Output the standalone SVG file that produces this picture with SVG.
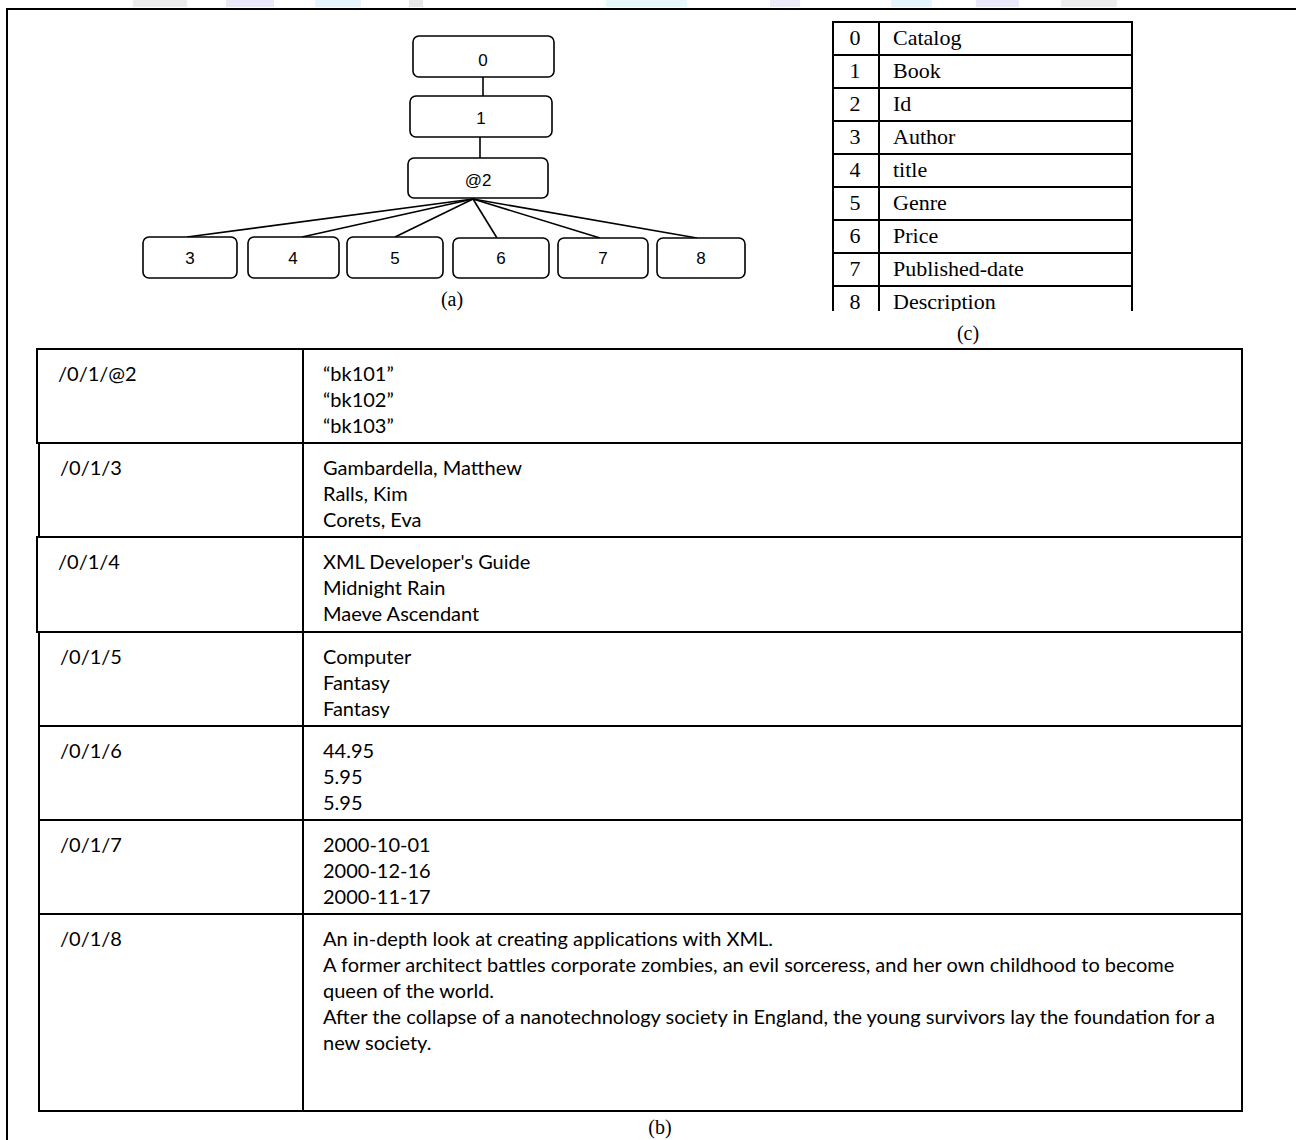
<svg xmlns="http://www.w3.org/2000/svg" width="1296" height="1140" viewBox="0 0 1296 1140">
<style>
.node rect{fill:#fff;stroke:#000;stroke-width:1.6}
.node text{font-family:"Liberation Sans",Arial,sans-serif;font-size:17px;text-anchor:middle;fill:#000}
.conn line{stroke:#000;stroke-width:1.6}
.grid line{stroke:#000;stroke-width:2}
.tm{font-family:"Liberation Serif","Times New Roman",serif;font-size:22px;fill:#000}
.cap{font-family:"Liberation Serif","Times New Roman",serif;font-size:20px;fill:#000;text-anchor:middle}
.cb{font-family:Lato,"Open Sans",sans-serif;font-size:20px;fill:#000}
.wm{opacity:0.5}
</style>
<defs>
<clipPath id="clipC"><rect x="820" y="0" width="330" height="311"/></clipPath>
<clipPath id="clipR2"><rect x="300" y="443" width="940" height="86"/></clipPath>
<clipPath id="clipR4"><rect x="300" y="632" width="940" height="86"/></clipPath>
</defs>
<rect width="1296" height="1140" fill="#fff"/>
<g id="watermark" class="wm">
<rect x="133" y="0" width="54" height="7" fill="#dcdcdc"/>
<rect x="226" y="0" width="48" height="7" fill="#d8d4f4"/>
<rect x="315" y="0" width="46" height="7" fill="#cfeefa"/>
<rect x="409" y="0" width="14" height="7" fill="#d0d0d0"/>
<rect x="606" y="0" width="81" height="7" fill="#cff2fa"/>
<rect x="770" y="0" width="30" height="7" fill="#dad6f2"/>
<rect x="891" y="0" width="41" height="7" fill="#cfeefa"/>
<rect x="976" y="0" width="43" height="7" fill="#d8d4f4"/>
<rect x="1061" y="0" width="56" height="7" fill="#dcdcdc"/>
</g>
<rect id="frame" x="7" y="9" width="1300" height="1140" fill="none" stroke="#000" stroke-width="2"/>

<g id="connectors" class="conn">
<line x1="483" y1="77" x2="483" y2="96"/>
<line x1="480" y1="137" x2="480" y2="158"/>
<line x1="473" y1="199" x2="187" y2="237"/>
<line x1="473" y1="199" x2="302" y2="237"/>
<line x1="473" y1="199" x2="395" y2="237"/>
<line x1="473" y1="199" x2="497" y2="238"/>
<line x1="473" y1="199" x2="600" y2="238"/>
<line x1="473" y1="199" x2="697" y2="238"/>
</g>

<g id="n0" class="node"><rect x="413" y="36" width="141" height="41" rx="6"/><text x="483" y="66">0</text></g>
<g id="n1" class="node"><rect x="410" y="96" width="142" height="41" rx="6"/><text x="481" y="124">1</text></g>
<g id="n2" class="node"><rect x="408" y="158" width="140" height="40" rx="6"/><text x="478" y="186">@2</text></g>
<g id="n3" class="node"><rect x="143" y="237" width="94" height="41" rx="6"/><text x="190" y="264">3</text></g>
<g id="n4" class="node"><rect x="248" y="237" width="91" height="41" rx="6"/><text x="293" y="264">4</text></g>
<g id="n5" class="node"><rect x="347" y="237" width="96" height="41" rx="6"/><text x="395" y="264">5</text></g>
<g id="n6" class="node"><rect x="453" y="238" width="96" height="40" rx="6"/><text x="501" y="264">6</text></g>
<g id="n7" class="node"><rect x="558" y="238" width="90" height="40" rx="6"/><text x="603" y="264">7</text></g>
<g id="n8" class="node"><rect x="657" y="238" width="88" height="40" rx="6"/><text x="701" y="264">8</text></g>
<text class="cap" x="452" y="306">(a)</text>

<g id="tableC" clip-path="url(#clipC)">
<g class="grid">
<line x1="833" y1="22" x2="1132" y2="22"/>
<line x1="833" y1="55" x2="1132" y2="55"/>
<line x1="833" y1="88" x2="1132" y2="88"/>
<line x1="833" y1="121" x2="1132" y2="121"/>
<line x1="833" y1="154" x2="1132" y2="154"/>
<line x1="833" y1="187" x2="1132" y2="187"/>
<line x1="833" y1="220" x2="1132" y2="220"/>
<line x1="833" y1="253" x2="1132" y2="253"/>
<line x1="833" y1="286" x2="1132" y2="286"/>
<line x1="833" y1="21" x2="833" y2="311"/>
<line x1="879" y1="21" x2="879" y2="311"/>
<line x1="1132" y1="21" x2="1132" y2="311"/>
</g>
<g class="tm" text-anchor="middle">
<text x="855" y="45">0</text><text x="855" y="78">1</text><text x="855" y="111">2</text><text x="855" y="144">3</text><text x="855" y="177">4</text><text x="855" y="210">5</text><text x="855" y="243">6</text><text x="855" y="276">7</text><text x="855" y="309">8</text>
</g>
<g class="tm">
<text x="893" y="45">Catalog</text><text x="893" y="78">Book</text><text x="893" y="111">Id</text><text x="893" y="144">Author</text><text x="893" y="177">title</text><text x="893" y="210">Genre</text><text x="893" y="243">Price</text><text x="893" y="276">Published-date</text><text x="893" y="309">Description</text>
</g>
</g>
<text class="cap" x="968" y="340">(c)</text>

<g id="tableB">
<g class="grid">
<line x1="36" y1="349" x2="1243" y2="349"/>
<line x1="36" y1="443" x2="1243" y2="443"/>
<line x1="36" y1="537" x2="1243" y2="537"/>
<line x1="36" y1="632" x2="1243" y2="632"/>
<line x1="38" y1="726" x2="1243" y2="726"/>
<line x1="38" y1="820" x2="1243" y2="820"/>
<line x1="38" y1="914" x2="1243" y2="914"/>
<line x1="38" y1="1111" x2="1243" y2="1111"/>
<line x1="37" y1="348" x2="37" y2="444"/>
<line x1="39" y1="443" x2="39" y2="537"/>
<line x1="37" y1="537" x2="37" y2="632"/>
<line x1="39" y1="632" x2="39" y2="1112"/>
<line x1="303" y1="348" x2="303" y2="1112"/>
<line x1="1242" y1="348" x2="1242" y2="1112"/>
</g>
<g class="cb">
<text x="58" y="381">/0/1/@2</text>
<text x="60" y="475">/0/1/3</text>
<text x="58" y="569">/0/1/4</text>
<text x="60" y="664">/0/1/5</text>
<text x="60" y="758">/0/1/6</text>
<text x="60" y="852">/0/1/7</text>
<text x="60" y="946">/0/1/8</text>

<text x="323" y="381">“bk101”</text>
<text x="323" y="407">“bk102”</text>
<text x="323" y="433">“bk103”</text>

<text x="323" y="475">Gambardella, Matthew</text>
<text x="323" y="501">Ralls, Kim</text>
<text x="323" y="527" clip-path="url(#clipR2)">Corets, Eva</text>

<text x="323" y="569">XML Developer's Guide</text>
<text x="323" y="595">Midnight Rain</text>
<text x="323" y="621">Maeve Ascendant</text>

<text x="323" y="664">Computer</text>
<text x="323" y="690">Fantasy</text>
<text x="323" y="716" clip-path="url(#clipR4)">Fantasy</text>

<text x="323" y="758">44.95</text>
<text x="323" y="784">5.95</text>
<text x="323" y="810">5.95</text>

<text x="323" y="852">2000-10-01</text>
<text x="323" y="878">2000-12-16</text>
<text x="323" y="904">2000-11-17</text>

<text x="323" y="946">An in-depth look at creating applications with XML.</text>
<text x="323" y="972">A former architect battles corporate zombies, an evil sorceress, and her own childhood to become</text>
<text x="323" y="998">queen of the world.</text>
<text x="323" y="1024">After the collapse of a nanotechnology society in England, the young survivors lay the foundation for a</text>
<text x="323" y="1050">new society.</text>
</g>
</g>
<text class="cap" x="660" y="1134">(b)</text>
</svg>
